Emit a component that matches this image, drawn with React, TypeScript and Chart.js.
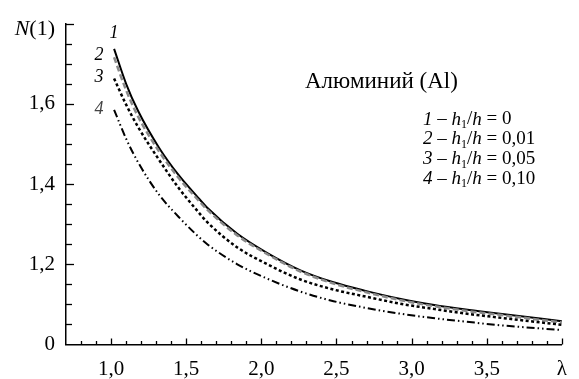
import React, { useEffect, useRef } from 'react';
import { Chart, registerables } from 'chart.js';

Chart.register(...registerables);

const FONT = "'Liberation Serif', 'DejaVu Serif', serif";

// λ values where the curves were read
const lambda = [1.02, 1.1, 1.18, 1.32, 1.45, 1.57, 1.64, 1.84, 2.04, 2.26, 2.48, 2.7, 2.92, 3.14, 3.36, 3.56, 4.0];
// N(1) for h1/h = 0, 0.01, 0.05, 0.10
const curve1 = [1.737, 1.65, 1.582, 1.49, 1.422, 1.37, 1.341, 1.276, 1.228, 1.185, 1.155, 1.133, 1.114, 1.099, 1.087, 1.078, 1.058];
const curve2 = [1.716, 1.634, 1.568, 1.481, 1.415, 1.364, 1.336, 1.272, 1.225, 1.182, 1.152, 1.13, 1.111, 1.096, 1.084, 1.075, 1.055];
const curve3 = [1.663, 1.598, 1.542, 1.46, 1.39, 1.335, 1.305, 1.242, 1.2, 1.162, 1.137, 1.119, 1.102, 1.089, 1.077, 1.068, 1.049];
const curve4 = [1.585, 1.513, 1.454, 1.373, 1.318, 1.273, 1.25, 1.2, 1.164, 1.132, 1.108, 1.091, 1.077, 1.066, 1.057, 1.049, 1.036];

const curveNumbers = ['1', '2', '3', '4'];
const ratioValues = ['0', '0,01', '0,05', '0,10'];
const materialTitle = 'Алюминий (Al)';
const yAxisLabel = 'N(1)';
const xAxisEndLabel = 'λ';
const xTickLabels = ['1,0', '1,5', '2,0', '2,5', '3,0', '3,5'];
const yTickLabels = ['0', '1,2', '1,4', '1,6'];

const near = (a: number, b: number) => Math.abs(a - b) < 1e-6;
const isMult = (v: number, s: number) => Math.abs(v / s - Math.round(v / s)) < 1e-6;

type Part = { t: string; it?: boolean; sub?: boolean };

function drawRich(ctx: CanvasRenderingContext2D, x: number, y: number, parts: Part[], size: number, align: 'left' | 'right' = 'left') {
  const fontOf = (p: Part) => `${p.it ? 'italic ' : ''}${p.sub ? Math.round(size * 0.65) : size}px ${FONT}`;
  let total = 0;
  for (const p of parts) {
    ctx.font = fontOf(p);
    total += ctx.measureText(p.t).width;
  }
  let cx = align === 'right' ? x - total : x;
  ctx.textAlign = 'left';
  ctx.textBaseline = 'middle';
  for (const p of parts) {
    ctx.font = fontOf(p);
    ctx.fillText(p.t, cx, y + (p.sub ? size * 0.28 : 0));
    cx += ctx.measureText(p.t).width;
  }
}

const decorPlugin = {
  id: 'decor',
  afterDatasetsDraw(chart: any) {
    const ctx: CanvasRenderingContext2D = chart.ctx;
    const xs = chart.scales.x;
    const ys = chart.scales.y;
    const area = chart.chartArea;
    ctx.save();
    ctx.strokeStyle = '#000';
    ctx.fillStyle = '#000';
    ctx.lineWidth = 1.3;
    // inward ticks on x
    for (const t of xs.ticks) {
      const v = t.value;
      if (v <= xs.min + 1e-6) continue;
      const px = Math.round(xs.getPixelForValue(v)) + 0.5;
      const len = isMult(v, 0.5) ? 6 : 3.5;
      ctx.beginPath();
      ctx.moveTo(px, area.bottom);
      ctx.lineTo(px, area.bottom - len);
      ctx.stroke();
    }
    // inward ticks on y
    for (const t of ys.ticks) {
      const v = t.value;
      if (v <= ys.min + 1e-6) continue;
      const py = Math.round(ys.getPixelForValue(v)) + 0.5;
      const len = isMult(v, 0.2) ? 8 : 6;
      ctx.beginPath();
      ctx.moveTo(area.left, py);
      ctx.lineTo(area.left + len, py);
      ctx.stroke();
    }
    // y axis label at the top
    drawRich(ctx, 55, ys.getPixelForValue(ys.max) + 6, [{ t: yAxisLabel[0], it: true }, { t: yAxisLabel.slice(1) }], 22, 'right');

    // curve numbers
    const numPos = [
      [lambda[0], 1.775],
      [0.92, 1.72],
      [0.92, 1.665],
      [0.92, 1.587],
    ];
    ctx.font = `italic 18px ${FONT}`;
    ctx.textAlign = 'center';
    ctx.textBaseline = 'middle';
    curveNumbers.forEach((n, i) => {
      ctx.fillStyle = i === 3 ? '#444' : '#000';
      ctx.fillText(n, xs.getPixelForValue(numPos[i][0]), ys.getPixelForValue(numPos[i][1]));
    });
    ctx.fillStyle = '#000';

    // title
    ctx.font = `23px ${FONT}`;
    ctx.textAlign = 'left';
    ctx.fillText(materialTitle, 305, 82);

    // legend
    curveNumbers.forEach((n, i) => {
      drawRich(ctx, 423, 119.5 + i * 19.8, [
        { t: n, it: true },
        { t: ' – ' },
        { t: 'h', it: true },
        { t: '1', sub: true },
        { t: '/' },
        { t: 'h', it: true },
        { t: ' = ' + ratioValues[i] },
      ], 19);
    });
    ctx.restore();
  },
};

export default function App() {
  const ref = useRef<HTMLCanvasElement>(null);
  useEffect(() => {
    const mk = (ys: number[]) => lambda.map((x, i) => ({ x, y: ys[i] }));
    const chart = new Chart(ref.current!, {
      type: 'line',
      data: {
        datasets: [
          { data: mk(curve4), borderColor: '#000', borderWidth: 2, borderDash: [8, 3, 1.5, 3, 1.5, 3] },
          { data: mk(curve3), borderColor: '#000', borderWidth: 2.5, borderDash: [3, 2.5] },
          { data: mk(curve2), borderColor: '#8a8a8a', borderWidth: 2.5, borderDash: [6, 3] },
          { data: mk(curve1), borderColor: '#000', borderWidth: 2 },
        ] as any,
      },
      options: {
        animation: false,
        responsive: false,
        maintainAspectRatio: false,
        layout: { padding: { top: 19, right: 12, left: 0, bottom: 0 } },
        elements: { point: { radius: 0 }, line: { cubicInterpolationMode: 'monotone' } },
        plugins: { legend: { display: false }, tooltip: { enabled: false } },
        scales: {
          x: {
            type: 'linear',
            min: 0.7,
            max: 4.0,
            afterFit: (s: any) => { s.height = 34.5; },
            grid: { display: false, drawTicks: false },
            border: { display: true, color: '#000', width: 1.5 },
            ticks: {
              stepSize: 0.1,
              autoSkip: false,
              maxRotation: 0,
              padding: 12,
              color: '#000',
              font: { family: FONT, size: 21 },
              callback: (v: any) => {
                const n = Number(v);
                if (near(n, 4)) return xAxisEndLabel;
                for (let k = 0; k < xTickLabels.length; k++) {
                  if (near(n, 1 + k * 0.5)) return xTickLabels[k];
                }
                return '';
              },
            },
          },
          y: {
            type: 'linear',
            min: 1.0,
            max: 1.8,
            afterFit: (s: any) => { s.width = 66; },
            grid: { display: false, drawTicks: false },
            border: { display: true, color: '#000', width: 1.5 },
            ticks: {
              stepSize: 0.05,
              autoSkip: false,
              padding: 11,
              color: '#000',
              font: { family: FONT, size: 21 },
              callback: (v: any) => {
                const n = Number(v);
                for (let k = 0; k < yTickLabels.length; k++) {
                  if (near(n, 1 + k * 0.2)) return yTickLabels[k];
                }
                return '';
              },
            },
          },
        },
      },
      plugins: [decorPlugin],
    } as any);
    return () => chart.destroy();
  }, []);
  return (
    <div style={{ position: 'absolute', left: 0, top: 0, width: 579, height: 379, background: '#fff' }}>
      <canvas ref={ref} width={579} height={379} style={{ display: 'block' }} />
    </div>
  );
}
